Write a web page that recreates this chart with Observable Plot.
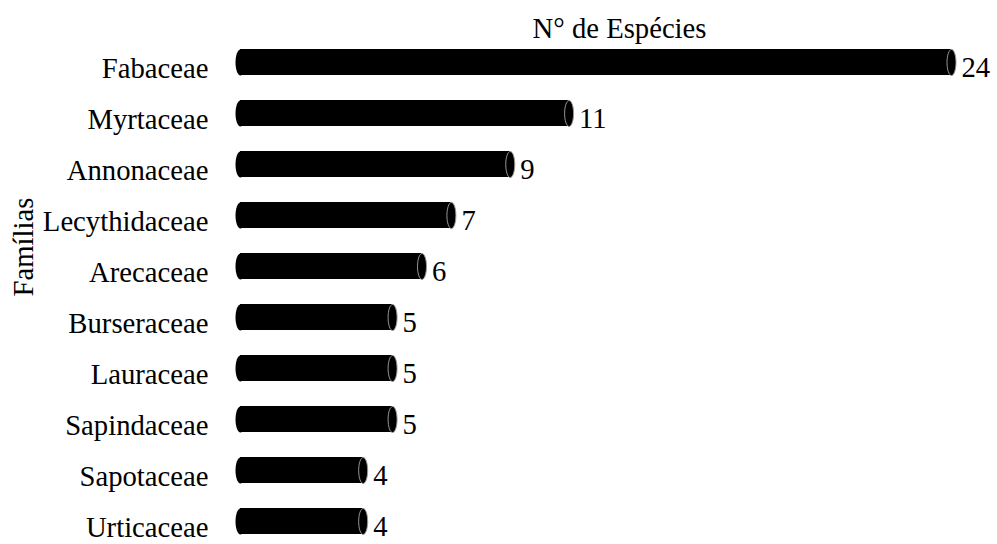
<!DOCTYPE html>
<html>
<head>
<meta charset="utf-8">
<script src="https://cdn.jsdelivr.net/npm/d3@7"></script>
<script src="https://cdn.jsdelivr.net/npm/@observablehq/plot@0.6"></script>
<style>
  html, body { margin: 0; padding: 0; background: #fff; }
</style>
</head>
<body>
<div id="chart"></div>
<script>
// Families and their species counts
const families = [
  "Fabaceae", "Myrtaceae", "Annonaceae", "Lecythidaceae", "Arecaceae",
  "Burseraceae", "Lauraceae", "Sapindaceae", "Sapotaceae", "Urticaceae"
];
const species = [24, 11, 9, 7, 6, 5, 5, 5, 4, 4];
const xTitle = "N° de Espécies";
const yTitle = "Famílias";

const rows = families.map((family, i) => ({family, n: species[i]}));

// Elliptical symbol used for the rounded ends of the cylinders
function ellipse(rx, ry) {
  const k = 0.5523;
  return {
    draw(ctx) {
      ctx.moveTo(rx, 0);
      ctx.bezierCurveTo(rx, k * ry, k * rx, ry, 0, ry);
      ctx.bezierCurveTo(-k * rx, ry, -rx, k * ry, -rx, 0);
      ctx.bezierCurveTo(-rx, -k * ry, -k * rx, -ry, 0, -ry);
      ctx.bezierCurveTo(k * rx, -ry, rx, -k * ry, rx, 0);
      ctx.closePath();
    }
  };
}

const serif = "serif";

const chart = Plot.plot({
  width: 997,
  height: 544,
  marginLeft: 245,
  marginRight: 46,
  marginTop: 48,
  marginBottom: 0,
  style: {
    fontFamily: serif,
    fontSize: "28.7px",
    color: "#000",
    background: "#fff"
  },
  x: {domain: [0, 24], axis: null},
  y: {domain: families, range: [19, 563], paddingInner: 0.5, paddingOuter: 0.5, axis: null},
  marks: [
    // cylinder body
    Plot.barX(rows, {x1: 0, x2: "n", y: "family", fill: "#000", insetLeft: -5}),
    // rounded left end
    Plot.dot(rows, {x: 0, y: "family", r: 5, symbol: ellipse(5, 13), fill: "#000", stroke: "none", dx: -5}),
    // end face at the value
    Plot.dot(rows, {x: "n", y: "family", r: 5, symbol: ellipse(4.5, 13), fill: "#000", stroke: "#9a9a9a", strokeWidth: 1}),
    // value labels
    Plot.text(rows, {x: "n", y: "family", text: d => String(d.n), textAnchor: "start", dx: 10, dy: 5, fill: "#000", fontFamily: serif}),
    // family names
    Plot.axisY({tickSize: 0, tickPadding: 37, dy: 6, label: null, fill: "#000", fontFamily: serif}),
    // axis titles
    Plot.text([yTitle], {text: d => d, frameAnchor: "left", dx: -222, rotate: -90, fill: "#000", fontFamily: serif}),
    Plot.text([xTitle], {text: d => d, frameAnchor: "top", lineAnchor: "middle", dx: 21, dy: -20, fill: "#000", fontFamily: serif})
  ]
});

document.getElementById("chart").appendChild(chart);
</script>
</body>
</html>
